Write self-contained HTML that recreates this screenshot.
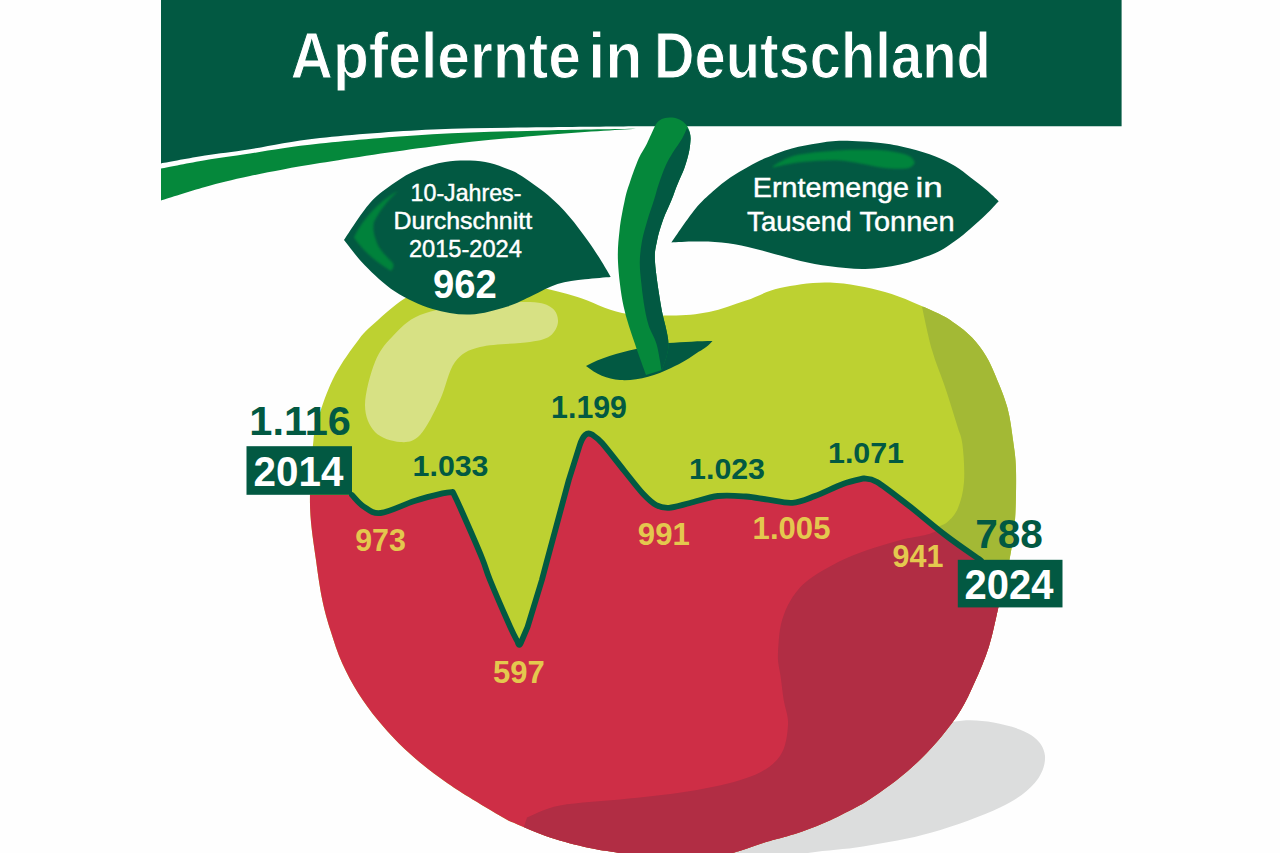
<!DOCTYPE html>
<html lang="de">
<head>
<meta charset="utf-8">
<title>Apfelernte in Deutschland</title>
<style>
html,body{margin:0;padding:0;background:#fefefe;}
body{width:1280px;height:853px;overflow:hidden;}
svg{display:block;font-family:"Liberation Sans",sans-serif;}
</style>
</head>
<body>
<svg width="1280" height="853" viewBox="0 0 1280 853">
<defs>
<clipPath id="ac"><path d="M395.5 305.0 C401.1 300.7 404.9 297.8 411.0 295.0 C417.1 292.2 422.2 290.2 432.0 288.5 C441.8 286.8 457.0 285.7 470.0 285.0 C483.0 284.3 498.3 284.1 510.0 284.5 C521.7 284.9 528.8 285.4 540.0 287.5 C551.2 289.6 563.8 292.8 577.5 297.0 C591.2 301.2 606.4 309.9 622.0 313.0 C637.6 316.1 656.5 315.8 671.0 315.6 C685.5 315.4 696.5 314.5 709.0 312.0 C721.5 309.5 734.2 304.6 746.0 300.6 C757.8 296.6 766.0 291.0 780.0 288.0 C794.0 285.0 812.5 281.8 830.0 282.5 C847.5 283.2 867.5 287.1 885.0 292.0 C902.5 296.9 923.3 306.8 935.0 312.0 C946.7 317.2 948.8 319.2 955.0 323.5 C961.2 327.8 966.8 332.1 972.0 337.5 C977.2 342.9 982.0 349.4 986.0 356.0 C990.0 362.6 992.4 368.3 996.0 377.0 C999.6 385.7 1004.7 397.5 1007.5 408.0 C1010.3 418.5 1011.6 429.7 1013.0 440.0 C1014.4 450.3 1015.7 456.7 1016.0 470.0 C1016.3 483.3 1016.0 505.5 1015.0 520.0 C1014.0 534.5 1012.8 542.3 1010.0 557.0 C1007.2 571.7 1001.7 593.2 998.2 608.2 C994.7 623.2 992.7 634.6 988.8 646.9 C984.9 659.2 979.5 671.5 974.8 682.0 C970.1 692.5 966.2 701.2 960.7 710.2 C955.2 719.2 948.5 727.9 941.9 736.0 C935.2 744.1 928.2 751.8 920.8 759.0 C913.4 766.2 905.6 773.0 897.4 779.5 C889.2 786.0 878.1 793.6 871.6 798.0 C865.1 802.4 865.3 802.4 858.4 806.1 C851.5 809.8 839.7 816.0 830.3 820.2 C820.9 824.4 811.6 828.1 802.2 831.4 C792.8 834.7 781.0 837.7 774.0 839.8 C767.0 841.9 765.5 842.2 760.0 844.0 C754.5 845.8 746.8 848.7 741.0 850.5 C735.2 852.3 731.8 853.2 725.0 855.0 C718.2 856.8 710.8 860.0 700.0 861.0 C689.2 862.0 673.2 862.3 660.0 861.0 C646.8 859.7 631.9 855.4 620.6 853.3 C609.4 851.2 603.4 851.0 592.5 848.6 C581.6 846.2 567.5 843.0 555.0 839.0 C542.5 835.0 526.2 828.0 517.5 824.4 C508.8 820.8 511.1 822.1 503.0 817.5 C494.9 812.9 478.4 803.0 468.8 797.0 C459.2 791.0 453.2 787.2 445.4 781.7 C437.6 776.2 429.7 770.6 421.9 764.1 C414.1 757.6 405.9 750.4 398.5 743.0 C391.1 735.6 384.0 727.8 377.4 719.6 C370.8 711.4 364.5 703.2 358.6 693.8 C352.7 684.4 346.9 673.8 342.2 663.3 C337.5 652.8 333.8 641.0 330.5 630.5 C327.2 620.0 324.7 611.8 322.3 600.0 C319.9 588.2 318.1 575.8 316.0 560.0 C313.9 544.2 310.4 525.0 310.0 505.0 C309.6 485.0 311.8 455.4 313.5 440.0 C315.2 424.6 316.4 423.3 320.0 412.5 C323.6 401.7 328.5 387.2 335.0 375.0 C341.5 362.8 351.7 348.5 358.8 339.4 C365.8 330.3 371.4 326.3 377.5 320.6 C383.6 314.9 389.9 309.3 395.5 305.0Z"/></clipPath>
<clipPath id="rc"><path d="M352 495 C354.0 496.9 359.0 503.6 363.8 506.6 C368.5 509.6 372.2 513.9 380.6 513.0 C389.0 512.1 404.1 504.3 414.4 501.0 C424.7 497.7 436.1 494.9 442.5 493.4 C448.9 491.9 451.1 492.2 452.8 492.0 C454.2 494.9 456.1 498.5 461.0 509.5 C465.9 520.5 477.2 546.2 482.0 558.0 C486.8 569.8 485.3 568.5 490.0 580.0 C494.7 591.5 505.6 616.6 510.2 626.9 C514.8 637.1 516.3 639.1 517.5 641.5 Q519.4 648.5 521.6 641 L527.6 626.9 L541.9 580 L546 564.4 L568.8 480 L579.5 446 C583 435 587 431.5 592 434.5 C593.7 435.9 596.6 436.9 602.0 443.0 C607.4 449.1 617.6 462.5 624.4 471.0 C631.2 479.5 637.7 488.1 643.0 493.8 C648.3 499.4 651.7 502.7 656.0 505.0 C660.3 507.3 663.3 508.1 669.0 507.8 C674.7 507.5 681.8 505.0 690.0 503.0 C698.2 501.0 708.7 497.1 718.0 496.0 C727.3 494.9 737.7 495.9 746.0 496.5 C754.3 497.1 760.2 498.6 768.0 499.6 C775.8 500.7 784.7 503.4 792.5 502.8 C800.3 502.2 806.6 499.1 815.0 496.0 C823.4 492.9 834.9 486.9 843.0 484.0 C851.1 481.1 860.3 479.3 863.8 478.4 C866.0 479.0 869.5 477.5 877.0 482.0 C884.5 486.5 897.2 496.7 908.8 505.6 C920.2 514.5 934.0 526.5 946.0 535.6 C958.0 544.8 975.2 556.4 981.0 560.5 L1100 560 L1100 900 L200 900 L200 495 Z"/></clipPath>
<filter id="soft" x="-10%" y="-10%" width="120%" height="120%"><feGaussianBlur stdDeviation="0.9"/></filter>
</defs>
<rect width="1280" height="853" fill="#fefefe"/>
<!-- ground shadow -->
<path d="M900.0 740.0 C928.7 725.3 936.4 724.9 952.0 722.0 C967.6 719.1 980.3 720.3 993.5 722.5 C1006.7 724.7 1022.4 729.4 1031.0 735.0 C1039.6 740.6 1044.4 748.0 1045.0 756.0 C1045.6 764.0 1042.2 774.4 1034.7 783.0 C1027.2 791.6 1017.2 799.2 1000.0 807.5 C982.8 815.8 954.5 826.0 931.7 832.5 C908.9 839.0 886.0 842.7 863.0 846.5 C840.0 850.3 821.2 849.9 794.0 855.5 C766.8 861.1 702.3 887.6 700.0 880.0 C697.7 872.4 746.7 833.3 780.0 810.0 C813.3 786.7 871.3 754.7 900.0 740.0Z" fill="#dcdddd"/>
<!-- apple -->
<path d="M395.5 305.0 C401.1 300.7 404.9 297.8 411.0 295.0 C417.1 292.2 422.2 290.2 432.0 288.5 C441.8 286.8 457.0 285.7 470.0 285.0 C483.0 284.3 498.3 284.1 510.0 284.5 C521.7 284.9 528.8 285.4 540.0 287.5 C551.2 289.6 563.8 292.8 577.5 297.0 C591.2 301.2 606.4 309.9 622.0 313.0 C637.6 316.1 656.5 315.8 671.0 315.6 C685.5 315.4 696.5 314.5 709.0 312.0 C721.5 309.5 734.2 304.6 746.0 300.6 C757.8 296.6 766.0 291.0 780.0 288.0 C794.0 285.0 812.5 281.8 830.0 282.5 C847.5 283.2 867.5 287.1 885.0 292.0 C902.5 296.9 923.3 306.8 935.0 312.0 C946.7 317.2 948.8 319.2 955.0 323.5 C961.2 327.8 966.8 332.1 972.0 337.5 C977.2 342.9 982.0 349.4 986.0 356.0 C990.0 362.6 992.4 368.3 996.0 377.0 C999.6 385.7 1004.7 397.5 1007.5 408.0 C1010.3 418.5 1011.6 429.7 1013.0 440.0 C1014.4 450.3 1015.7 456.7 1016.0 470.0 C1016.3 483.3 1016.0 505.5 1015.0 520.0 C1014.0 534.5 1012.8 542.3 1010.0 557.0 C1007.2 571.7 1001.7 593.2 998.2 608.2 C994.7 623.2 992.7 634.6 988.8 646.9 C984.9 659.2 979.5 671.5 974.8 682.0 C970.1 692.5 966.2 701.2 960.7 710.2 C955.2 719.2 948.5 727.9 941.9 736.0 C935.2 744.1 928.2 751.8 920.8 759.0 C913.4 766.2 905.6 773.0 897.4 779.5 C889.2 786.0 878.1 793.6 871.6 798.0 C865.1 802.4 865.3 802.4 858.4 806.1 C851.5 809.8 839.7 816.0 830.3 820.2 C820.9 824.4 811.6 828.1 802.2 831.4 C792.8 834.7 781.0 837.7 774.0 839.8 C767.0 841.9 765.5 842.2 760.0 844.0 C754.5 845.8 746.8 848.7 741.0 850.5 C735.2 852.3 731.8 853.2 725.0 855.0 C718.2 856.8 710.8 860.0 700.0 861.0 C689.2 862.0 673.2 862.3 660.0 861.0 C646.8 859.7 631.9 855.4 620.6 853.3 C609.4 851.2 603.4 851.0 592.5 848.6 C581.6 846.2 567.5 843.0 555.0 839.0 C542.5 835.0 526.2 828.0 517.5 824.4 C508.8 820.8 511.1 822.1 503.0 817.5 C494.9 812.9 478.4 803.0 468.8 797.0 C459.2 791.0 453.2 787.2 445.4 781.7 C437.6 776.2 429.7 770.6 421.9 764.1 C414.1 757.6 405.9 750.4 398.5 743.0 C391.1 735.6 384.0 727.8 377.4 719.6 C370.8 711.4 364.5 703.2 358.6 693.8 C352.7 684.4 346.9 673.8 342.2 663.3 C337.5 652.8 333.8 641.0 330.5 630.5 C327.2 620.0 324.7 611.8 322.3 600.0 C319.9 588.2 318.1 575.8 316.0 560.0 C313.9 544.2 310.4 525.0 310.0 505.0 C309.6 485.0 311.8 455.4 313.5 440.0 C315.2 424.6 316.4 423.3 320.0 412.5 C323.6 401.7 328.5 387.2 335.0 375.0 C341.5 362.8 351.7 348.5 358.8 339.4 C365.8 330.3 371.4 326.3 377.5 320.6 C383.6 314.9 389.9 309.3 395.5 305.0Z" fill="#bdd131"/>
<g clip-path="url(#ac)">
<path d="M922 307 C923.7 314.2 928.2 336.7 932.0 350.0 C935.8 363.3 940.8 374.5 945.0 387.0 C949.2 399.5 954.1 415.3 957.0 425.0 C959.9 434.7 961.3 435.5 962.5 445.0 C963.7 454.5 964.8 471.5 964.0 482.0 C963.2 492.5 960.8 501.3 958.0 508.0 C955.2 514.7 951.2 518.7 947.4 522.0 C943.6 525.3 937.1 527.0 935.0 528.0 L900 560 L1100 620 L1100 250 Z" fill="#a3b935"/>
<path d="M420.0 315.0 C433.0 309.7 451.7 307.2 470.0 305.0 C488.3 302.8 516.3 301.5 530.0 302.0 C543.7 302.5 547.3 304.7 552.0 308.0 C556.7 311.3 558.3 317.3 558.0 322.0 C557.7 326.7 554.7 332.7 550.0 336.0 C545.3 339.3 541.7 340.2 530.0 342.0 C518.3 343.8 492.5 343.7 480.0 347.0 C467.5 350.3 461.7 353.2 455.0 362.0 C448.3 370.8 445.8 387.8 440.0 400.0 C434.2 412.2 426.7 428.0 420.0 435.0 C413.3 442.0 407.5 442.5 400.0 442.0 C392.5 441.5 380.8 438.2 375.0 432.0 C369.2 425.8 365.0 416.7 365.0 405.0 C365.0 393.3 370.5 373.3 375.0 362.0 C379.5 350.7 384.5 344.8 392.0 337.0 C399.5 329.2 407.0 320.3 420.0 315.0Z" fill="#d7e184"/>
<path d="M352 495 C354.0 496.9 359.0 503.6 363.8 506.6 C368.5 509.6 372.2 513.9 380.6 513.0 C389.0 512.1 404.1 504.3 414.4 501.0 C424.7 497.7 436.1 494.9 442.5 493.4 C448.9 491.9 451.1 492.2 452.8 492.0 C454.2 494.9 456.1 498.5 461.0 509.5 C465.9 520.5 477.2 546.2 482.0 558.0 C486.8 569.8 485.3 568.5 490.0 580.0 C494.7 591.5 505.6 616.6 510.2 626.9 C514.8 637.1 516.3 639.1 517.5 641.5 Q519.4 648.5 521.6 641 L527.6 626.9 L541.9 580 L546 564.4 L568.8 480 L579.5 446 C583 435 587 431.5 592 434.5 C593.7 435.9 596.6 436.9 602.0 443.0 C607.4 449.1 617.6 462.5 624.4 471.0 C631.2 479.5 637.7 488.1 643.0 493.8 C648.3 499.4 651.7 502.7 656.0 505.0 C660.3 507.3 663.3 508.1 669.0 507.8 C674.7 507.5 681.8 505.0 690.0 503.0 C698.2 501.0 708.7 497.1 718.0 496.0 C727.3 494.9 737.7 495.9 746.0 496.5 C754.3 497.1 760.2 498.6 768.0 499.6 C775.8 500.7 784.7 503.4 792.5 502.8 C800.3 502.2 806.6 499.1 815.0 496.0 C823.4 492.9 834.9 486.9 843.0 484.0 C851.1 481.1 860.3 479.3 863.8 478.4 C866.0 479.0 869.5 477.5 877.0 482.0 C884.5 486.5 897.2 496.7 908.8 505.6 C920.2 514.5 934.0 526.5 946.0 535.6 C958.0 544.8 975.2 556.4 981.0 560.5 L1100 560 L1100 900 L200 900 L200 495 Z" fill="#ce2e46"/>
<g clip-path="url(#rc)"><path d="M1100 530 L938.75 530 C936.8 530.8 933.3 532.9 927.0 534.6 C920.7 536.3 909.5 537.8 900.7 540.0 C891.9 542.2 883.1 544.9 874.3 547.8 C865.5 550.7 855.3 554.4 848.0 557.5 C840.7 560.6 836.3 563.1 830.4 566.3 C824.5 569.5 818.1 573.0 812.8 576.8 C807.5 580.6 802.8 584.3 798.7 589.0 C794.6 593.7 791.0 599.1 788.0 605.0 C785.0 610.9 782.6 617.8 781.0 624.3 C779.4 630.8 779.0 637.8 778.5 643.7 C778.0 649.7 777.7 654.8 778.0 660.0 C778.3 665.2 779.4 668.3 780.4 675.0 C781.4 681.7 782.4 691.7 783.7 700.0 C785.0 708.3 788.6 715.7 788.0 725.0 C787.4 734.3 786.0 747.5 780.0 756.0 C774.0 764.5 765.8 770.3 752.0 776.0 C738.2 781.7 717.5 786.2 697.0 790.0 C676.5 793.8 651.8 796.0 629.0 798.6 C606.2 801.2 577.0 802.4 560.0 805.5 C543.0 808.6 532.5 815.5 527.0 817.5 L500 900 L1100 900 Z" fill="#b12d44"/></g>
</g>
<path d="M352 495 C354.0 496.9 359.0 503.6 363.8 506.6 C368.5 509.6 372.2 513.9 380.6 513.0 C389.0 512.1 404.1 504.3 414.4 501.0 C424.7 497.7 436.1 494.9 442.5 493.4 C448.9 491.9 451.1 492.2 452.8 492.0 C454.2 494.9 456.1 498.5 461.0 509.5 C465.9 520.5 477.2 546.2 482.0 558.0 C486.8 569.8 485.3 568.5 490.0 580.0 C494.7 591.5 505.6 616.6 510.2 626.9 C514.8 637.1 516.3 639.1 517.5 641.5 Q519.4 648.5 521.6 641 L527.6 626.9 L541.9 580 L546 564.4 L568.8 480 L579.5 446 C583 435 587 431.5 592 434.5 C593.7 435.9 596.6 436.9 602.0 443.0 C607.4 449.1 617.6 462.5 624.4 471.0 C631.2 479.5 637.7 488.1 643.0 493.8 C648.3 499.4 651.7 502.7 656.0 505.0 C660.3 507.3 663.3 508.1 669.0 507.8 C674.7 507.5 681.8 505.0 690.0 503.0 C698.2 501.0 708.7 497.1 718.0 496.0 C727.3 494.9 737.7 495.9 746.0 496.5 C754.3 497.1 760.2 498.6 768.0 499.6 C775.8 500.7 784.7 503.4 792.5 502.8 C800.3 502.2 806.6 499.1 815.0 496.0 C823.4 492.9 834.9 486.9 843.0 484.0 C851.1 481.1 860.3 479.3 863.8 478.4 C866.0 479.0 869.5 477.5 877.0 482.0 C884.5 486.5 897.2 496.7 908.8 505.6 C920.2 514.5 934.0 526.5 946.0 535.6 C958.0 544.8 975.2 556.4 981.0 560.5" fill="none" stroke="#025942" stroke-width="5.8" stroke-linejoin="round" stroke-linecap="round"/>
<!-- banner -->
<path d="M640 126.3 L1121.6 126.3 L1121.6 0 L161 0 L161 163.5 C168.3 162.2 190.2 158.0 205.0 155.6 C219.8 153.2 230.8 152.1 250.0 149.2 C269.2 146.3 289.6 141.3 320.0 138.0 C350.4 134.7 395.0 131.3 432.5 129.5 C470.0 127.7 510.4 127.8 545.0 127.3 C579.6 126.8 624.2 126.5 640.0 126.3Z" fill="#025942"/>
<path d="M161 168.5 C168.3 167.1 190.2 162.7 205.0 160.2 C219.8 157.7 230.8 156.3 250.0 153.5 C269.2 150.7 289.6 146.8 320.0 143.6 C350.4 140.4 395.0 136.5 432.5 134.3 C470.0 132.1 511.1 131.3 545.0 130.4 C578.9 129.5 620.8 129.1 636.0 128.8 C620.8 129.8 578.9 132.1 545.0 135.0 C511.1 137.9 470.0 141.7 432.5 146.4 C395.0 151.1 350.4 158.1 320.0 163.0 C289.6 167.9 269.2 172.0 250.0 176.0 C230.8 180.0 219.8 182.9 205.0 187.0 C190.2 191.1 168.3 198.2 161.0 200.5Z" fill="#05883b"/>
<!-- dimple + stem -->
<path d="M586 366 C600 358 618 353 636 349 L668 343 C684 342 700 341 712.5 341 C706 348 702 350 699 351.5 C690 358 682 363 671 368 C655 376 637 381 620 380 C607 379 596 374 586 366Z" fill="#025942"/>
<path d="M654.5 127 C653.2 129.7 649.6 138.1 647.0 143.4 C644.4 148.7 641.5 152.2 638.7 158.6 C635.9 165.0 632.3 175.1 630.0 182.0 C627.7 188.9 626.5 192.0 624.8 200.0 C623.1 208.0 620.7 219.7 619.6 230.0 C618.5 240.3 617.4 249.3 618.0 262.0 C618.6 274.7 620.7 292.3 623.5 306.0 C626.3 319.7 631.2 332.5 635.0 344.0 C638.8 355.5 644.2 369.8 646.0 375.0 L662 370 C663.1 365.7 668.7 354.7 668.5 344.0 C668.3 333.3 663.2 319.7 661.0 306.0 C658.8 292.3 655.7 272.8 655.0 262.0 C654.3 251.2 655.7 248.0 657.0 241.0 C658.3 234.0 660.6 226.8 663.0 220.0 C665.4 213.2 669.1 205.9 671.5 200.0 C673.9 194.1 675.2 189.7 677.4 184.4 C679.5 179.1 682.4 173.7 684.4 168.0 C686.4 162.3 688.3 155.2 689.3 150.4 C690.3 145.6 690.4 140.9 690.6 139.0 C691 126 682 117.5 670 117.5 C661 117.5 657 121.5 654.5 127Z" fill="#05883b"/>
<path d="M687 128 C686.2 129.8 684.4 134.6 682.0 138.7 C679.6 142.8 675.4 148.3 672.7 152.8 C670.0 157.3 668.1 160.3 665.7 165.6 C663.4 170.9 660.6 178.7 658.6 184.4 C656.6 190.1 655.9 194.1 654.0 200.0 C652.1 205.9 649.5 213.2 647.5 220.0 C645.5 226.8 643.3 234.0 642.0 241.0 C640.7 248.0 639.9 255.2 639.8 262.0 C639.7 268.8 640.5 275.2 641.2 282.0 C641.9 288.8 642.6 295.8 643.8 303.0 C645.0 310.2 646.4 318.2 648.5 325.0 C650.6 331.8 654.3 336.5 656.5 344.0 C658.7 351.5 660.7 365.7 661.5 370.0 L662 370 C663.1 365.7 668.7 354.7 668.5 344.0 C668.3 333.3 663.2 319.7 661.0 306.0 C658.8 292.3 655.7 272.8 655.0 262.0 C654.3 251.2 655.7 248.0 657.0 241.0 C658.3 234.0 660.6 226.8 663.0 220.0 C665.4 213.2 669.1 205.9 671.5 200.0 C673.9 194.1 675.2 189.7 677.4 184.4 C679.5 179.1 682.4 173.7 684.4 168.0 C686.4 162.3 688.3 155.2 689.3 150.4 C690.3 145.6 690.4 140.9 690.6 139.0 C690.6 134 689.5 131 687 128Z" fill="#025942"/>
<!-- leaves -->
<path d="M344 240 C348.3 233.8 361.5 212.6 370.0 203.0 C378.5 193.4 387.1 188.1 395.0 182.5 C402.9 176.9 409.2 173.1 417.5 169.7 C425.8 166.3 436.2 163.5 445.0 162.0 C453.8 160.5 462.5 160.3 470.0 160.5 C477.5 160.7 483.8 161.6 490.0 163.0 C496.2 164.4 502.5 167.0 507.5 169.0 C512.5 171.0 513.2 170.6 520.0 175.0 C526.8 179.4 539.9 188.4 548.1 195.3 C556.3 202.2 562.6 208.9 569.2 216.4 C575.8 223.9 582.1 232.8 587.5 240.3 C592.9 247.8 597.7 255.3 601.6 261.4 C605.5 267.5 609.2 274.3 610.7 276.9 C606.4 277.3 593.9 278.1 585.0 279.3 C576.1 280.5 566.2 281.3 557.5 284.0 C548.8 286.7 540.8 291.8 532.5 295.5 C524.2 299.2 517.9 303.3 507.5 306.5 C497.1 309.7 482.5 314.1 470.0 314.5 C457.5 314.9 445.0 312.8 432.5 309.0 C420.0 305.2 406.2 298.8 395.0 291.5 C383.8 284.2 373.5 274.1 365.0 265.5 C356.5 256.9 347.5 244.2 344.0 240.0Z" fill="#025942"/>
<path d="M398 191 C380 200 362 220 354 237.5 C362 250 376 262 391 271 C394 268 394 265 392.5 262.5 C384 254 378 248 376 240 C373 232 373 226 374 222 C380 210 388 200 398 191Z" fill="#05883b" fill-opacity="0.85" filter="url(#soft)"/>
<path d="M671.4 242.5 C675.4 236.9 688.3 217.6 695.2 209.1 C702.1 200.6 706.9 196.8 712.7 191.5 C718.6 186.2 724.4 181.6 730.3 177.5 C736.2 173.4 742.0 170.1 747.9 166.9 C753.8 163.7 758.2 161.2 765.5 158.1 C772.8 155.0 783.0 151.0 791.8 148.5 C800.6 146.0 809.7 144.5 818.2 143.2 C826.7 141.9 832.2 140.8 843.0 140.8 C853.8 140.8 871.5 141.9 882.7 143.2 C893.9 144.5 901.2 146.3 910.0 148.5 C918.8 150.7 928.0 153.5 935.5 156.4 C943.0 159.3 949.1 162.5 955.0 166.0 C960.9 169.5 965.4 173.6 970.6 177.5 C975.8 181.4 981.3 185.6 986.0 189.5 C990.7 193.4 996.6 199.2 998.7 201.2 C996.6 203.4 990.7 210.0 986.0 214.5 C981.3 219.0 975.8 224.0 970.6 228.4 C965.4 232.8 960.9 236.9 955.0 241.0 C949.1 245.1 944.6 249.1 935.5 253.0 C926.4 256.9 912.0 261.9 900.3 264.5 C888.6 267.1 876.9 268.6 865.2 268.9 C853.5 269.2 840.8 267.5 830.0 266.2 C819.2 264.9 809.9 263.1 800.6 261.0 C791.3 258.9 783.1 256.2 774.3 253.9 C765.5 251.6 756.7 248.8 747.9 246.9 C739.1 245.0 730.3 243.4 721.5 242.5 C712.7 241.6 703.6 241.6 695.2 241.6 C686.9 241.6 675.4 242.3 671.4 242.5Z" fill="#025942"/>
<path d="M772.5 167.0 C772.5 168.2 784.2 164.4 791.8 163.4 C799.4 162.4 810.2 161.3 818.2 160.8 C826.2 160.3 833.0 160.1 840.0 160.5 C847.0 160.9 852.9 162.3 860.0 163.5 C867.1 164.7 876.0 166.9 882.7 167.8 C889.4 168.7 895.5 168.9 900.0 168.8 C904.5 168.8 907.6 168.6 910.0 167.5 C912.4 166.4 914.5 164.3 914.5 162.5 C914.5 160.7 912.4 158.1 910.0 156.5 C907.6 154.9 904.5 154.1 900.0 153.0 C895.5 151.9 889.4 150.7 882.7 150.2 C876.0 149.7 866.6 149.8 860.0 149.8 C853.4 149.8 850.0 149.8 843.0 150.2 C836.0 150.6 826.7 151.0 818.2 152.0 C809.7 153.0 799.4 153.9 791.8 156.4 C784.2 158.9 772.5 165.8 772.5 167.0Z" fill="#05883b" fill-opacity="0.9" filter="url(#soft)"/>
<!-- year boxes -->
<rect x="246.5" y="446.2" width="105.5" height="48.6" fill="#025942"/>
<rect x="957.8" y="559.8" width="104.7" height="47.6" fill="#025942"/>
<!-- labels -->
<text><tspan x="290.5" y="77.5" font-size="64.0" fill="#ffffff" font-weight="bold" textLength="290.5" lengthAdjust="spacingAndGlyphs" stroke="#025942" stroke-width="1.10">Apfelernte</tspan> <tspan x="588.3" y="77.5" font-size="64.0" fill="#ffffff" font-weight="bold" textLength="54.1" lengthAdjust="spacingAndGlyphs" stroke="#025942" stroke-width="1.10">in</tspan> <tspan x="653.9" y="77.5" font-size="64.0" fill="#ffffff" font-weight="bold" textLength="336.8" lengthAdjust="spacingAndGlyphs" stroke="#025942" stroke-width="1.10">Deutschland</tspan></text>
<text><tspan x="410.6" y="200.5" font-size="23.8" fill="#ffffff" font-weight="normal" textLength="110.8" lengthAdjust="spacingAndGlyphs" stroke="#ffffff" stroke-width="0.45">10-Jahres-</tspan> <tspan x="393.6" y="229.0" font-size="23.8" fill="#ffffff" font-weight="normal" textLength="138.5" lengthAdjust="spacingAndGlyphs" stroke="#ffffff" stroke-width="0.45">Durchschnitt</tspan> <tspan x="408.9" y="257.0" font-size="23.4" fill="#ffffff" font-weight="normal" textLength="113.0" lengthAdjust="spacingAndGlyphs" stroke="#ffffff" stroke-width="0.45">2015-2024</tspan> <tspan x="433.1" y="297.9" font-size="41.3" fill="#ffffff" font-weight="bold" textLength="63.8" lengthAdjust="spacingAndGlyphs">962</tspan></text>
<text><tspan x="752.8" y="197.1" font-size="28.4" fill="#ffffff" font-weight="normal" textLength="156.2" lengthAdjust="spacingAndGlyphs" stroke="#ffffff" stroke-width="0.45">Erntemenge</tspan> <tspan x="915.4" y="197.1" font-size="28.4" fill="#ffffff" font-weight="normal" textLength="27.2" lengthAdjust="spacingAndGlyphs" stroke="#ffffff" stroke-width="0.45">in</tspan> <tspan x="747.1" y="230.8" font-size="28.4" fill="#ffffff" font-weight="normal" textLength="104.4" lengthAdjust="spacingAndGlyphs" stroke="#ffffff" stroke-width="0.45">Tausend</tspan> <tspan x="859.5" y="230.8" font-size="28.4" fill="#ffffff" font-weight="normal" textLength="95.0" lengthAdjust="spacingAndGlyphs" stroke="#ffffff" stroke-width="0.45">Tonnen</tspan></text>
<text x="253.6" y="486.0" font-size="41.8" fill="#ffffff" font-weight="bold" textLength="89.8" lengthAdjust="spacingAndGlyphs">2014</text>
<text x="964.6" y="599.0" font-size="42.4" fill="#ffffff" font-weight="bold" textLength="88.9" lengthAdjust="spacingAndGlyphs">2024</text>
<text x="249.3" y="435.0" font-size="39.8" fill="#025942" font-weight="bold" textLength="101.6" lengthAdjust="spacingAndGlyphs">1.116</text>
<text x="412.6" y="476.0" font-size="30.2" fill="#025942" font-weight="bold" textLength="75.9" lengthAdjust="spacingAndGlyphs">1.033</text>
<text x="551.1" y="417.6" font-size="30.6" fill="#025942" font-weight="bold" textLength="75.9" lengthAdjust="spacingAndGlyphs">1.199</text>
<text x="689.1" y="478.8" font-size="30.2" fill="#025942" font-weight="bold" textLength="75.9" lengthAdjust="spacingAndGlyphs">1.023</text>
<text x="828.0" y="463.0" font-size="29.8" fill="#025942" font-weight="bold" textLength="76.0" lengthAdjust="spacingAndGlyphs">1.071</text>
<text x="975.2" y="548.0" font-size="41.2" fill="#025942" font-weight="bold" textLength="67.7" lengthAdjust="spacingAndGlyphs">788</text>
<text x="355.2" y="551.0" font-size="31.2" fill="#e4c84e" font-weight="bold" textLength="50.7" lengthAdjust="spacingAndGlyphs">973</text>
<text x="492.9" y="683.0" font-size="32.2" fill="#e4c84e" font-weight="bold" textLength="51.9" lengthAdjust="spacingAndGlyphs">597</text>
<text x="637.8" y="545.3" font-size="31.2" fill="#e4c84e" font-weight="bold" textLength="52.1" lengthAdjust="spacingAndGlyphs">991</text>
<text x="752.6" y="539.4" font-size="31.4" fill="#e4c84e" font-weight="bold" textLength="77.9" lengthAdjust="spacingAndGlyphs">1.005</text>
<text x="892.6" y="567.0" font-size="32.2" fill="#e4c84e" font-weight="bold" textLength="50.9" lengthAdjust="spacingAndGlyphs">941</text>
</svg>
</body>
</html>
